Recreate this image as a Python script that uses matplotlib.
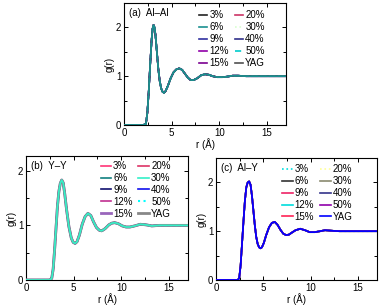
import matplotlib
matplotlib.use("Agg")
import matplotlib.pyplot as plt
from matplotlib.ticker import MultipleLocator

plt.rcParams['font.family'] = ['Liberation Sans', 'DejaVu Sans']

# series labels (same in every panel)
labels = ["3%", "6%", "9%", "12%", "15%", "20%", "30%", "40%", "50%", "YAG"]

# g(r); all compositions overlap within a panel
r_alal = [0, 2.0, 2.3, 2.45, 2.6, 2.75, 2.9, 3.0, 3.1, 3.2, 3.3, 3.45, 3.6, 3.75, 3.9, 4.05, 4.2,
          4.35, 4.6, 4.9, 5.2, 5.5, 5.8, 6.1, 6.4, 6.7, 7.0, 7.3, 7.7, 8.1, 8.5, 8.9, 9.3, 9.8,
          10.3, 10.8, 11.4, 12.0, 12.8, 14.0, 17.0]
g_alal = [0, 0, 0.02, 0.25, 0.7, 1.25, 1.75, 1.97, 2.05, 2.0, 1.85, 1.5, 1.15, 0.9, 0.75, 0.68, 0.66,
          0.69, 0.8, 0.96, 1.08, 1.14, 1.16, 1.13, 1.05, 0.97, 0.92, 0.92, 0.96, 1.02, 1.04, 1.03, 1.0, 0.98,
          0.98, 0.99, 1.01, 1.01, 1.0, 1.0, 1.0]

r_yy = [0, 2.5, 2.7, 2.85, 3.0, 3.15, 3.3, 3.45, 3.6, 3.75, 3.9, 4.05, 4.25, 4.5, 4.75, 4.95, 5.15,
        5.35, 5.6, 5.9, 6.2, 6.5, 6.8, 7.1, 7.4, 7.7, 7.95, 8.3, 8.7, 9.0, 9.3, 9.7, 10.1, 10.5, 10.9,
        11.4, 12.0, 12.6, 13.2, 14.0, 15.0, 17.0]
g_yy = [0, 0, 0.03, 0.2, 0.55, 0.95, 1.35, 1.62, 1.77, 1.83, 1.78, 1.6, 1.3, 0.98, 0.77, 0.69, 0.67,
        0.7, 0.82, 1.02, 1.16, 1.22, 1.18, 1.06, 0.96, 0.91, 0.9, 0.94, 1.01, 1.04, 1.05, 1.03, 0.99, 0.97, 0.97,
        0.99, 1.02, 1.01, 0.99, 1.0, 1.0, 1.0]

r_aly = [0, 2.3, 2.45, 2.6, 2.75, 2.9, 3.05, 3.2, 3.35, 3.5, 3.65, 3.8, 3.95, 4.1, 4.25, 4.4, 4.55,
         4.7, 4.85, 5.05, 5.3, 5.6, 5.9, 6.2, 6.5, 6.8, 7.1, 7.4, 7.7, 8.0, 8.4, 8.9, 9.4, 9.9, 10.4,
         11.0, 11.5, 12.2, 13.0, 14.0, 17.0]
g_aly = [0, 0, 0.04, 0.3, 0.75, 1.2, 1.62, 1.9, 2.0, 2.02, 1.95, 1.72, 1.42, 1.12, 0.88, 0.74, 0.67,
         0.65, 0.67, 0.76, 0.92, 1.08, 1.17, 1.19, 1.13, 1.03, 0.95, 0.92, 0.93, 0.97, 1.02, 1.05, 1.02, 0.98, 0.98,
         1.0, 1.02, 1.01, 1.0, 1.0, 1.0]

# colours and line styles for each panel
colors_a = ["#222222", "#1a9090", "#3030a0", "#9000a8", "#7a0090",
            "#cc3366", "#d8ffd0", "#30308a", "#00cccc", "#505050"]
styles_a = ["-", "-", "-", "-", "-", "-", ":", "-", "--", "-"]
colors_b = ["#ff3377", "#108080", "#10106e", "#c03090", "#9966bb",
            "#dd3366", "#33f0c8", "#1010ee", "#00ffff", "#888888"]
styles_b = ["-", "-", "-", "-", "-", "-", "-", "-", ":", "-"]
widths_b = [1.2, 1.2, 1.2, 1.2, 2, 1.2, 1.2, 1.2, 1.5, 2]
colors_c = ["#00e0e0", "#333333", "#ee2266", "#00dddd", "#ff2255",
            "#ffff99", "#8a8a70", "#33338a", "#9000aa", "#0000ff"]
styles_c = [":", "-", "-", "-", "-", ":", "-", "-", "-", "-"]

fig = plt.figure(figsize=(3.8, 3.08), dpi=100)
ax_a = fig.add_axes([124/380, 1-125/308, 162/380, 122/308])
ax_b = fig.add_axes([26/380, 1-280/308, 162/380, 124/308])
ax_c = fig.add_axes([216/380, 1-280/308, 161/380, 122/308])

fs = 7


def draw(ax, r, g, colors, styles, widths, top, title, ylim, anchor, hl):
    for i, lab in enumerate(labels):
        z = 20 if i == top else 2 + i
        ax.plot(r, g, color=colors[i], ls=styles[i], lw=widths[i], label=lab, zorder=z)
    ax.set_xlim(0, 17)
    ax.set_ylim(0, ylim)
    ax.xaxis.set_major_locator(MultipleLocator(5))
    ax.xaxis.set_minor_locator(MultipleLocator(2.5))
    ax.yaxis.set_major_locator(MultipleLocator(1))
    ax.yaxis.set_minor_locator(MultipleLocator(0.5))
    ax.tick_params(which="both", direction="in", top=True, right=True, labelsize=fs, pad=2)
    ax.tick_params(which="major", length=3, width=0.7)
    ax.tick_params(which="minor", length=2, width=0.7)
    for s in ax.spines.values():
        s.set_linewidth(0.8)
    ax.set_xlabel("r (Å)", fontsize=fs, labelpad=0)
    ax.set_ylabel("g(r)", fontsize=fs, labelpad=1)
    ax.text(0.03, 0.96, title, transform=ax.transAxes, fontsize=fs, va="top", ha="left")
    ax.legend(ncol=2, fontsize=fs, frameon=False, loc="upper left", bbox_to_anchor=anchor,
              handlelength=hl, handletextpad=0.2, columnspacing=0.6, labelspacing=0.2,
              borderaxespad=0.0, borderpad=0.0)


draw(ax_a, r_alal, g_alal, colors_a, styles_a, [1.2]*10, 1, "(a)  Al\u2013Al", 2.5,
     (0.46, 0.94), 0.9)
draw(ax_b, r_yy, g_yy, colors_b, styles_b, widths_b, 6, "(b)  Y\u2013Y", 2.27,
     (0.46, 0.96), 1.1)
draw(ax_c, r_aly, g_aly, colors_c, styles_c, [1.2]*10, 9, "(c)  Al\u2013Y", 2.5,
     (0.41, 0.95), 1.1)

fig.savefig("out.png", dpi=100)
